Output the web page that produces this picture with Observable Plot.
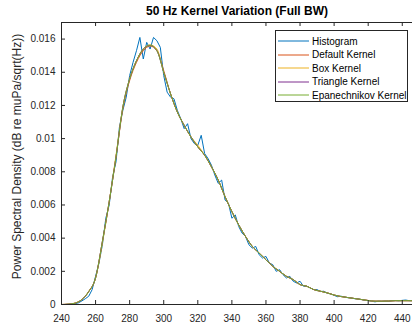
<!DOCTYPE html>
<html>
<head>
<meta charset="utf-8">
<script src="https://cdn.jsdelivr.net/npm/d3@7"></script>
<script src="https://cdn.jsdelivr.net/npm/@observablehq/plot@0.6"></script>
<style>
  html, body { margin: 0; padding: 0; background: #fff; }
  #wrap { position: relative; width: 412px; height: 328px; overflow: hidden; font-family: "Liberation Sans", Arial, sans-serif; }
  #legend { position: absolute; left: 275px; top: 30px; width: 131px; height: 70px; border: 1px solid #262626; background: #fff; font-size: 10px; color: #000; }
  .row { position: absolute; left: 0; height: 12px; display: flex; align-items: center; }
  .row svg { margin-left: 2px; }
  .row span { margin-left: 3px; white-space: nowrap; }
</style>
</head>
<body>
<div id="wrap">
  <div id="chart"></div>
  <div id="legend"></div>
</div>
<script>
// ---- data ----
const title = "50 Hz Kernel Variation (Full BW)";
const yLabel = "Power Spectral Density (dB re muPa/sqrt(Hz))";
const xTicks = [240, 260, 280, 300, 320, 340, 360, 380, 400, 420, 440];
const yTicks = [0, 0.002, 0.004, 0.006, 0.008, 0.01, 0.012, 0.014, 0.016];
const xDomain = [240, 446];
const yDomain = [0, 0.017];

const seriesNames = ["Histogram", "Default Kernel", "Box Kernel", "Triangle Kernel", "Epanechnikov Kernel"];
const seriesColors = ["#0072BD", "#D95319", "#EDB120", "#7E2F8E", "#77AC30"];

// histogram frequencies: 240..448 step 2
const histFreq = d3.range(240, 449, 2);
const histValues = [
  0, 0, 0.00001, 0.00002, 0.00005, 0.0001, 0.00022, 0.00035, 0.0005, 0.0009,
  0.0017, 0.0025, 0.0036, 0.0052, 0.0060, 0.0077, 0.0086, 0.0107, 0.0117, 0.0125,
  0.0138, 0.0146, 0.0153, 0.0161, 0.0148, 0.0158, 0.0154, 0.0161, 0.0159, 0.0155,
  0.0138, 0.0128, 0.0125, 0.0124, 0.0117, 0.0112, 0.0106, 0.0109, 0.0100, 0.0097,
  0.0096, 0.0102, 0.0091, 0.0088, 0.0084, 0.0078, 0.0073, 0.0075, 0.0063, 0.0061,
  0.0052, 0.0054, 0.0047, 0.0043, 0.0041, 0.0036, 0.0034, 0.0035, 0.0030, 0.0028,
  0.0029, 0.0025, 0.0024, 0.0020, 0.0021, 0.0018, 0.0016, 0.0017, 0.0014, 0.0013,
  0.0014, 0.0011, 0.0011, 0.0010, 0.0009, 0.0009, 0.00078, 0.0008, 0.00068, 0.00064,
  0.00055, 0.00047, 0.0005, 0.00046, 0.00041, 0.0004, 0.00035, 0.00034, 0.0003, 0.00025,
  0.00024, 0.0002, 0.00016, 0.0002, 0.00019, 0.00021, 0.00019, 0.00023, 0.00024, 0.00022,
  0.00025, 0.00027, 0.00023, 0.00024, 0.00022
];

// kernel frequencies: 240..448 step 4
const kernelFreq = d3.range(240, 449, 4);
const defaultKernel = [
  0, 0.00002, 0.00008, 0.0003, 0.00078, 0.0016, 0.0038, 0.0062, 0.0089, 0.0118,
  0.0135, 0.0146, 0.0153, 0.01558, 0.0153, 0.0141, 0.0127, 0.0116, 0.0108, 0.0101,
  0.0095, 0.0090, 0.0083, 0.0075, 0.0065, 0.0056, 0.0048, 0.0041, 0.0035, 0.0031,
  0.0027, 0.0023, 0.0020, 0.0017, 0.0015, 0.0012, 0.0011, 0.0009, 0.0008, 0.0007,
  0.00057, 0.00048, 0.00042, 0.00036, 0.0003, 0.00024, 0.0002, 0.0002, 0.00021, 0.00023,
  0.00023, 0.00023, 0.00022
];
const boxKernel = [
  0, 0.00002, 0.00009, 0.00031, 0.0008, 0.0016, 0.0037, 0.0062, 0.0090, 0.0119,
  0.0136, 0.0147, 0.0154, 0.01565, 0.0154, 0.0140, 0.0127, 0.0116, 0.0108, 0.0101,
  0.0096, 0.0090, 0.0083, 0.0075, 0.0065, 0.0056, 0.0048, 0.0041, 0.0035, 0.0031,
  0.0027, 0.0023, 0.0020, 0.0017, 0.0015, 0.0012, 0.0011, 0.0009, 0.0008, 0.0007,
  0.00057, 0.00048, 0.00042, 0.00036, 0.0003, 0.00024, 0.0002, 0.0002, 0.00021, 0.00023,
  0.00023, 0.00023, 0.00022
];
const triangleKernel = [
  0, 0.00002, 0.00008, 0.0003, 0.00078, 0.0016, 0.0038, 0.0062, 0.0089, 0.0119,
  0.0136, 0.0147, 0.0154, 0.01562, 0.0153, 0.0140, 0.0127, 0.0116, 0.0108, 0.0101,
  0.0095, 0.0090, 0.0083, 0.0075, 0.0065, 0.0056, 0.0048, 0.0041, 0.0035, 0.0031,
  0.0027, 0.0023, 0.0020, 0.0017, 0.0015, 0.0012, 0.0011, 0.0009, 0.0008, 0.0007,
  0.00057, 0.00048, 0.00042, 0.00036, 0.0003, 0.00024, 0.0002, 0.0002, 0.00021, 0.00023,
  0.00023, 0.00023, 0.00022
];
const epanechnikovKernel = [
  0, 0.00002, 0.00008, 0.0003, 0.00078, 0.0016, 0.0038, 0.0062, 0.0089, 0.0119,
  0.0136, 0.0147, 0.0154, 0.01563, 0.0153, 0.0140, 0.0127, 0.0116, 0.0108, 0.0101,
  0.0095, 0.0090, 0.0083, 0.0075, 0.0065, 0.0056, 0.0048, 0.0041, 0.0035, 0.0031,
  0.0027, 0.0023, 0.0020, 0.0017, 0.0015, 0.0012, 0.0011, 0.0009, 0.0008, 0.0007,
  0.00057, 0.00048, 0.00042, 0.00036, 0.0003, 0.00024, 0.0002, 0.0002, 0.00021, 0.00023,
  0.00023, 0.00023, 0.00022
];

// ---- build tables ----
const histRows = histFreq.map((f, i) => ({f, v: histValues[i]}));
const kernels = [defaultKernel, boxKernel, triangleKernel, epanechnikovKernel];
const kernelRows = kernels.map(arr => kernelFreq.map((f, i) => ({f, v: arr[i]})));

const W = 412, H = 328, mL = 61, mT = 22, mB = 24, mR = 0;
const frameW = W - mL - mR, frameH = H - mT - mB;
const axisColor = "#262626";

const marks = [
  Plot.line(histRows, {x: "f", y: "v", stroke: seriesColors[0], strokeWidth: 1, clip: true}),
  ...kernelRows.map((rows, k) =>
    Plot.line(rows, {x: "f", y: "v", stroke: seriesColors[k + 1], strokeWidth: 1, curve: "monotone-x", clip: true})),
  // box lines
  Plot.ruleY([yDomain[0]], {stroke: axisColor, strokeWidth: 1}),
  Plot.ruleY([yDomain[1]], {stroke: axisColor, strokeWidth: 1}),
  Plot.ruleX([xDomain[0]], {stroke: axisColor, strokeWidth: 1}),
  // inward ticks
  Plot.tickX(xTicks, {x: d => d, insetTop: frameH - 4, stroke: axisColor}),
  Plot.tickX(xTicks, {x: d => d, insetBottom: frameH - 4, stroke: axisColor}),
  Plot.tickY(yTicks, {y: d => d, insetRight: frameW - 4, stroke: axisColor}),
  // tick labels
  Plot.axisX({ticks: xTicks, tickSize: 0, tickPadding: 10, label: null, fontSize: 10, tickFormat: d => String(d)}),
  Plot.axisY({ticks: yTicks, tickSize: 0, tickPadding: 6, label: null, fontSize: 10, tickFormat: d => String(d)}),
  // title & y label
  Plot.text([title], {frameAnchor: "top", lineAnchor: "middle", dy: -11, fontWeight: "bold", fontSize: 12, fill: "#000"}),
  Plot.text([yLabel], {frameAnchor: "left", textAnchor: "middle", lineAnchor: "middle", rotate: -90, dx: -44, dy: -7, fontSize: 12, fill: axisColor})
];

const chart = Plot.plot({
  width: W, height: H,
  marginLeft: mL, marginTop: mT, marginBottom: mB, marginRight: mR,
  x: {domain: xDomain},
  y: {domain: yDomain},
  style: {fontFamily: '"Liberation Sans", Arial, sans-serif', color: axisColor, background: "#fff", overflow: "visible"},
  marks
});
document.getElementById("chart").appendChild(chart);

// ---- legend ----
const legend = document.getElementById("legend");
seriesNames.forEach((name, i) => {
  const row = document.createElement("div");
  row.className = "row";
  row.style.top = (4 + i * 13.6) + "px";
  row.innerHTML = `<svg width="31" height="4"><line x1="0" x2="31" y1="2" y2="2" stroke="${seriesColors[i]}" stroke-width="1"/></svg><span>${name}</span>`;
  legend.appendChild(row);
});
</script>
</body>
</html>
